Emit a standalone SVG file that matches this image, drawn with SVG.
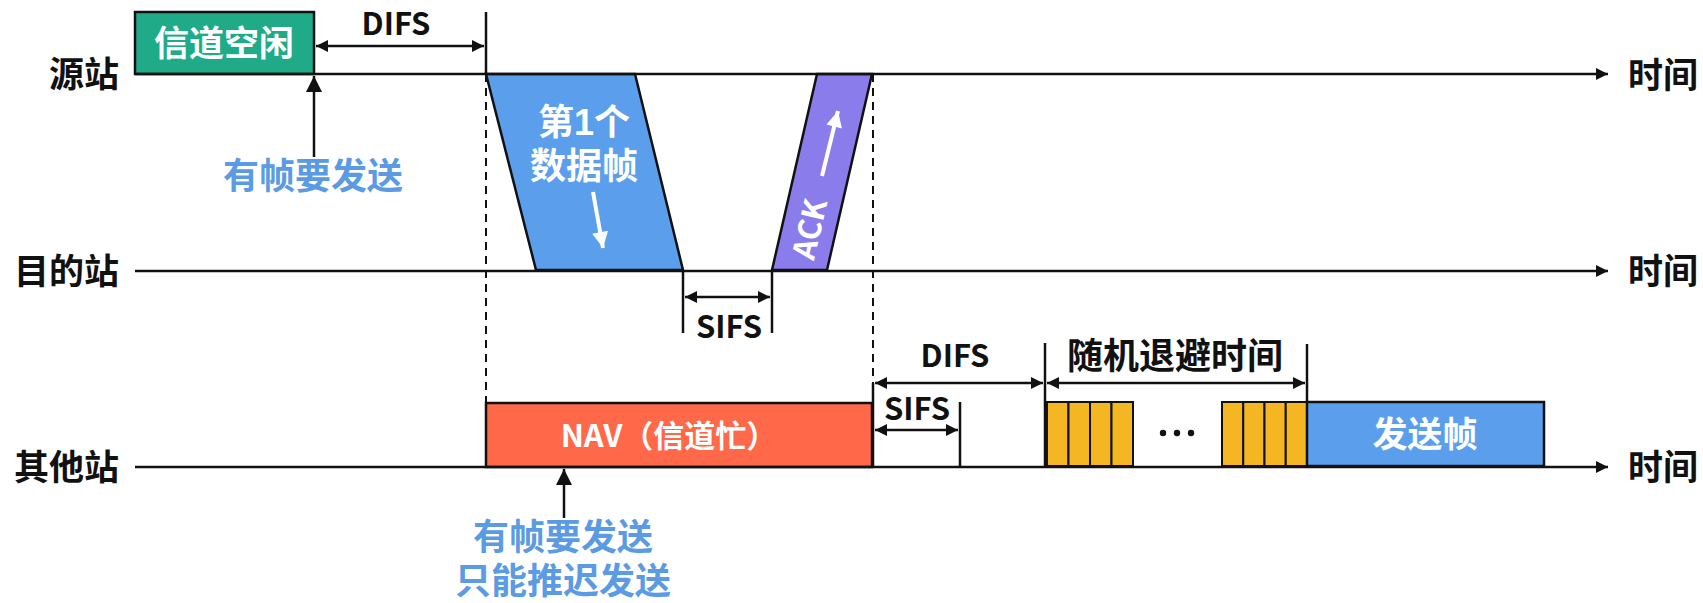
<svg xmlns="http://www.w3.org/2000/svg" width="1703" height="603" viewBox="0 0 1703 603">
<defs>
<style>
.t{font-family:"Noto Sans CJK SC","Liberation Sans",sans-serif;font-weight:bold}
.ml{font-family:"Liberation Sans","Noto Sans CJK SC",sans-serif;font-weight:bold}
.lbl{font-size:35px;fill:#111}
.w{fill:#fff}
.blue{fill:#5b9be3;font-size:36px}
.ln{stroke:#111;stroke-width:2.5;fill:none}
.dash{stroke:#111;stroke-width:2;stroke-dasharray:8 6;fill:none}
.box{stroke:#111;stroke-width:2.5}
.cell{stroke:#111;stroke-width:2;fill:#f5b623}
</style>
<marker id="ah" viewBox="0 0 10 10" refX="10" refY="5" markerWidth="16" markerHeight="12" markerUnits="userSpaceOnUse" orient="auto-start-reverse"><path d="M0,0 L10,5 L0,10 z" fill="#111"/></marker>
<marker id="ahs" viewBox="0 0 10 10" refX="10" refY="5" markerWidth="14" markerHeight="12" markerUnits="userSpaceOnUse" orient="auto-start-reverse"><path d="M0,0 L10,5 L0,10 z" fill="#111"/></marker>
<marker id="ahb" viewBox="0 0 10 10" refX="10" refY="5" markerWidth="22" markerHeight="16" markerUnits="userSpaceOnUse" orient="auto"><path d="M0,0 L10,5 L0,10 z" fill="#111"/></marker>
<marker id="ahw" viewBox="0 0 10 10" refX="10" refY="5" markerWidth="18" markerHeight="16" markerUnits="userSpaceOnUse" orient="auto"><path d="M0,0 L10,5 L0,10 z" fill="#fff"/></marker>
</defs>
<rect width="1703" height="603" fill="#fff"/>

<g id="station-labels" class="t lbl" text-anchor="end">
<text x="119" y="87">源站</text>
<text x="119" y="284">目的站</text>
<text x="119" y="480">其他站</text>
</g>
<g id="time-labels" class="t lbl">
<text x="1628" y="88">时间</text>
<text x="1628" y="284">时间</text>
<text x="1628" y="480">时间</text>
</g>

<g id="idle">
<rect class="box" x="135" y="12" width="179" height="62" fill="#1fab88"/>
<text class="t w" x="224" y="56" font-size="35" text-anchor="middle">信道空闲</text>
</g>

<g id="data-frame">
<path class="box" d="M486,74 L635,74 L683,270 L536,270 Z" fill="#5b9fec"/>
<text class="ml w" font-size="36" text-anchor="middle"><tspan x="584" y="135">第1个</tspan><tspan x="584" y="179">数据帧</tspan></text>
<line x1="593" y1="192" x2="603" y2="248" stroke="#fff" stroke-width="4" marker-end="url(#ahw)"/>
</g>

<g id="ack">
<path class="box" d="M817,74 L872,74 L827,270 L772,270 Z" fill="#8b7ceb"/>
<text class="t w" x="0" y="0" font-size="31" text-anchor="middle" transform="translate(810,229) rotate(-77) translate(0,11)">ACK</text>
<line x1="822" y1="176" x2="838" y2="111" stroke="#fff" stroke-width="4" marker-end="url(#ahw)"/>
</g>

<g id="nav">
<rect class="box" x="486" y="403" width="386" height="64" fill="#ff6949"/>
<text class="t w" x="669" y="447" font-size="31" text-anchor="middle">NAV（信道忙）</text>
</g>

<g id="backoff">
<rect class="cell" x="1047" y="402" width="21.5" height="64"/>
<rect class="cell" x="1068.5" y="402" width="21.5" height="64"/>
<rect class="cell" x="1090" y="402" width="21.5" height="64"/>
<rect class="cell" x="1111.5" y="402" width="21.5" height="64"/>
<circle cx="1163" cy="433" r="3.2" fill="#111"/>
<circle cx="1177" cy="433" r="3.2" fill="#111"/>
<circle cx="1191" cy="433" r="3.2" fill="#111"/>
<rect class="cell" x="1222" y="402" width="21.25" height="64"/>
<rect class="cell" x="1243.25" y="402" width="21.25" height="64"/>
<rect class="cell" x="1264.5" y="402" width="21.25" height="64"/>
<rect class="cell" x="1285.75" y="402" width="21.25" height="64"/>
</g>

<g id="send-frame">
<rect class="box" x="1307" y="402" width="237" height="64" fill="#5b9fec"/>
<text class="t w" x="1425" y="447" font-size="35" text-anchor="middle">发送帧</text>
</g>

<g id="connectors">
<line class="ln" x1="135" y1="74" x2="1608" y2="74" marker-end="url(#ah)"/>
<line class="ln" x1="135" y1="271" x2="1608" y2="271" marker-end="url(#ah)"/>
<line class="ln" x1="135" y1="467" x2="1608" y2="467" marker-end="url(#ah)"/>
<line class="ln" x1="486" y1="12" x2="486" y2="74"/>
<line class="dash" x1="486" y1="74" x2="486" y2="403"/>
<line class="dash" x1="873" y1="74" x2="873" y2="385"/>
<line class="ln" x1="873" y1="383" x2="873" y2="467"/>
<line class="ln" x1="316" y1="46" x2="484" y2="46" marker-start="url(#ahs)" marker-end="url(#ahs)"/>
<line class="ln" stroke-width="3.5" x1="314" y1="157" x2="314" y2="76" marker-end="url(#ahb)"/>
<line class="ln" stroke-width="3.5" x1="564" y1="518" x2="564" y2="469" marker-end="url(#ahb)"/>
<line class="ln" x1="683" y1="270" x2="683" y2="333"/>
<line class="ln" x1="772" y1="270" x2="772" y2="333"/>
<line class="ln" x1="685" y1="297" x2="770" y2="297" marker-start="url(#ahs)" marker-end="url(#ahs)"/>
<line class="ln" x1="875" y1="383" x2="1043" y2="383" marker-start="url(#ahs)" marker-end="url(#ahs)"/>
<line class="ln" x1="1045" y1="343" x2="1045" y2="467"/>
<line class="ln" x1="1047" y1="383" x2="1305" y2="383" marker-start="url(#ahs)" marker-end="url(#ahs)"/>
<line class="ln" x1="1307" y1="344" x2="1307" y2="402"/>
<line class="ln" x1="875" y1="430" x2="958" y2="430" marker-start="url(#ahs)" marker-end="url(#ahs)"/>
<line class="ln" x1="960" y1="402" x2="960" y2="467"/>
</g>

<g id="interval-labels" class="t" fill="#111" text-anchor="middle">
<text x="396" y="35" font-size="31">DIFS</text>
<text x="729" y="338" font-size="31">SIFS</text>
<text x="955" y="367" font-size="31">DIFS</text>
<text x="917" y="420" font-size="31">SIFS</text>
<text x="1175" y="369" font-size="36">随机退避时间</text>
</g>

<g id="notes" class="blue" text-anchor="middle">
<text class="t" x="313" y="189">有帧要发送</text>
<text class="ml"><tspan x="563" y="550">有帧要发送</tspan><tspan x="563" y="594">只能推迟发送</tspan></text>
</g>
</svg>
